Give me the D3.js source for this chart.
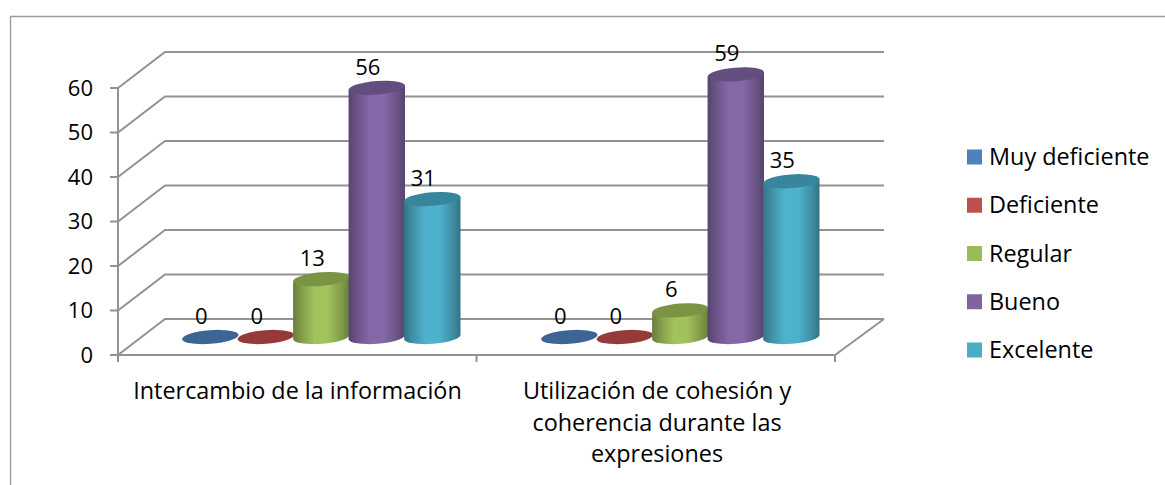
<!DOCTYPE html>
<html><head><meta charset="utf-8">
<script src="https://cdn.jsdelivr.net/npm/d3@7/dist/d3.min.js"></script>
<style>html,body{margin:0;padding:0;background:#fff}svg{display:block}text{font-family:"Open Sans",Lato,sans-serif;fill:#000}</style>
</head><body><div id="c"></div>
<script>
const categories=[["Intercambio de la información"],["Utilización de cohesión y","coherencia durante las","expresiones"]];
const seriesNames=["Muy deficiente","Deficiente","Regular","Bueno","Excelente"];
const seriesValues=[[0,0],[0,0],[13,6],[56,59],[31,35]];
const seriesColors=["#4f81bd","#c0504d","#9bbb59","#8064a2","#4bacc6"];
const topColors=["#3c6494","#953a38","#7a9444","#644e80","#37869c"];
const yTicks=[0,10,20,30,40,50,60];

const W=1165,H=485,fs=22,fsLabel=23.4;
const svg=d3.select("#c").append("svg").attr("width",W).attr("height",H);
const defs=svg.append("defs");
const y=d3.scaleLinear().domain([0,60]).range([355,88]);
const depth={dx:47,dy:-36};
const x0=d3.scaleBand().domain(d3.range(categories.length)).range([118,835]);
const xs=d3.scaleBand().domain(d3.range(seriesNames.length)).range([0,277.5]);
const grid="#929292";

seriesColors.forEach((c,i)=>{
  const g=defs.append("linearGradient").attr("id","g"+i);
  const col=d3.color(c);
  g.append("stop").attr("offset","0%").attr("stop-color",col.darker(1.1));
  g.append("stop").attr("offset","15%").attr("stop-color",col.darker(.5));
  g.append("stop").attr("offset","38%").attr("stop-color",col.brighter(.1));
  g.append("stop").attr("offset","62%").attr("stop-color",col.brighter(.1));
  g.append("stop").attr("offset","85%").attr("stop-color",col.darker(.5));
  g.append("stop").attr("offset","100%").attr("stop-color",col.darker(1.1));
});

// frame
svg.append("path").attr("d",`M10.5,${H}V16.5H${W}`).attr("fill","none").attr("stroke","#9a9a9a").attr("stroke-width",1.3);

// grid, walls
const gg=svg.append("g").attr("fill","none").attr("stroke",grid).attr("stroke-width",2);
yTicks.forEach(t=>{
  const p=d3.path();
  p.moveTo(110,y(t));p.lineTo(118,y(t));p.lineTo(118+depth.dx,y(t)+depth.dy);p.lineTo(835+depth.dx+2,y(t)+depth.dy);
  gg.append("path").attr("d",p);
  svg.append("text").attr("x",93).attr("y",y(t)).attr("dy","0.35em").attr("text-anchor","end").attr("font-size",fs).text(t);
});
gg.append("path").attr("d",`M118,${y(60)}V${y(0)+6}`);
gg.append("path").attr("d",`M118,${y(0)}H835L${835+depth.dx+2},${y(0)+depth.dy}`);
x0.domain().forEach(i=>gg.append("path").attr("d",`M${x0(i)},${y(0)}v7`));
gg.append("path").attr("d",`M835,${y(0)}v7`);

// cylinders
const baseY=y(0)-18, rx=28.3, ry=6.8, tilt=-4.5;
const h=y(0)-y(1);
const barsOffset=[64,64.5];
const ell=(cx,cy,f)=>svg.append("ellipse").attr("cx",cx).attr("cy",cy).attr("rx",rx).attr("ry",ry).attr("fill",f)
  .attr("transform",`rotate(${tilt} ${cx} ${cy})`);
const labels=[];
categories.forEach((_,ci)=>{
  seriesNames.forEach((_,si)=>{
    const v=seriesValues[si][ci];
    const cx=x0(ci)+barsOffset[ci]+xs(si)+rx;
    const top=baseY-v*h;
    if(v>0){
      const a=tilt*Math.PI/180;
      const ex=rx*Math.cos(a), ey=rx*Math.sin(a);
      const d=`M${cx-ex},${top-ey}L${cx-ex},${baseY-ey}A${rx},${ry} ${tilt} 0 0 ${cx+ex},${baseY+ey}L${cx+ex},${top+ey}Z`;
      svg.append("path").attr("d",d).attr("fill",`url(#g${si})`);
    }
    ell(cx,top,topColors[si]);
    labels.push({cx:cx-9,y:top-21,v});
  });
});
svg.selectAll("text.lab").data(labels).join("text").attr("class","lab").attr("x",d=>d.cx).attr("y",d=>d.y)
  .attr("dy","0.35em").attr("text-anchor","middle").attr("font-size",fs).text(d=>d.v);

// category labels
const catCenters=[297.5,657];
categories.forEach((lines,i)=>{
  lines.forEach((l,k)=>svg.append("text").attr("x",catCenters[i]).attr("y",391+k*31.5).attr("dy","0.35em")
    .attr("text-anchor","middle").attr("font-size",fsLabel).text(l));
});

// legend
seriesNames.forEach((n,i)=>{
  const yy=d3.scaleLinear().domain([0,4]).range([157,350])(i);
  svg.append("rect").attr("x",967).attr("y",yy-7.5).attr("width",15).attr("height",15).attr("fill",seriesColors[i]);
  svg.append("text").attr("x",989).attr("y",yy).attr("dy","0.35em").attr("font-size",fsLabel).text(n);
});
</script></body></html>
